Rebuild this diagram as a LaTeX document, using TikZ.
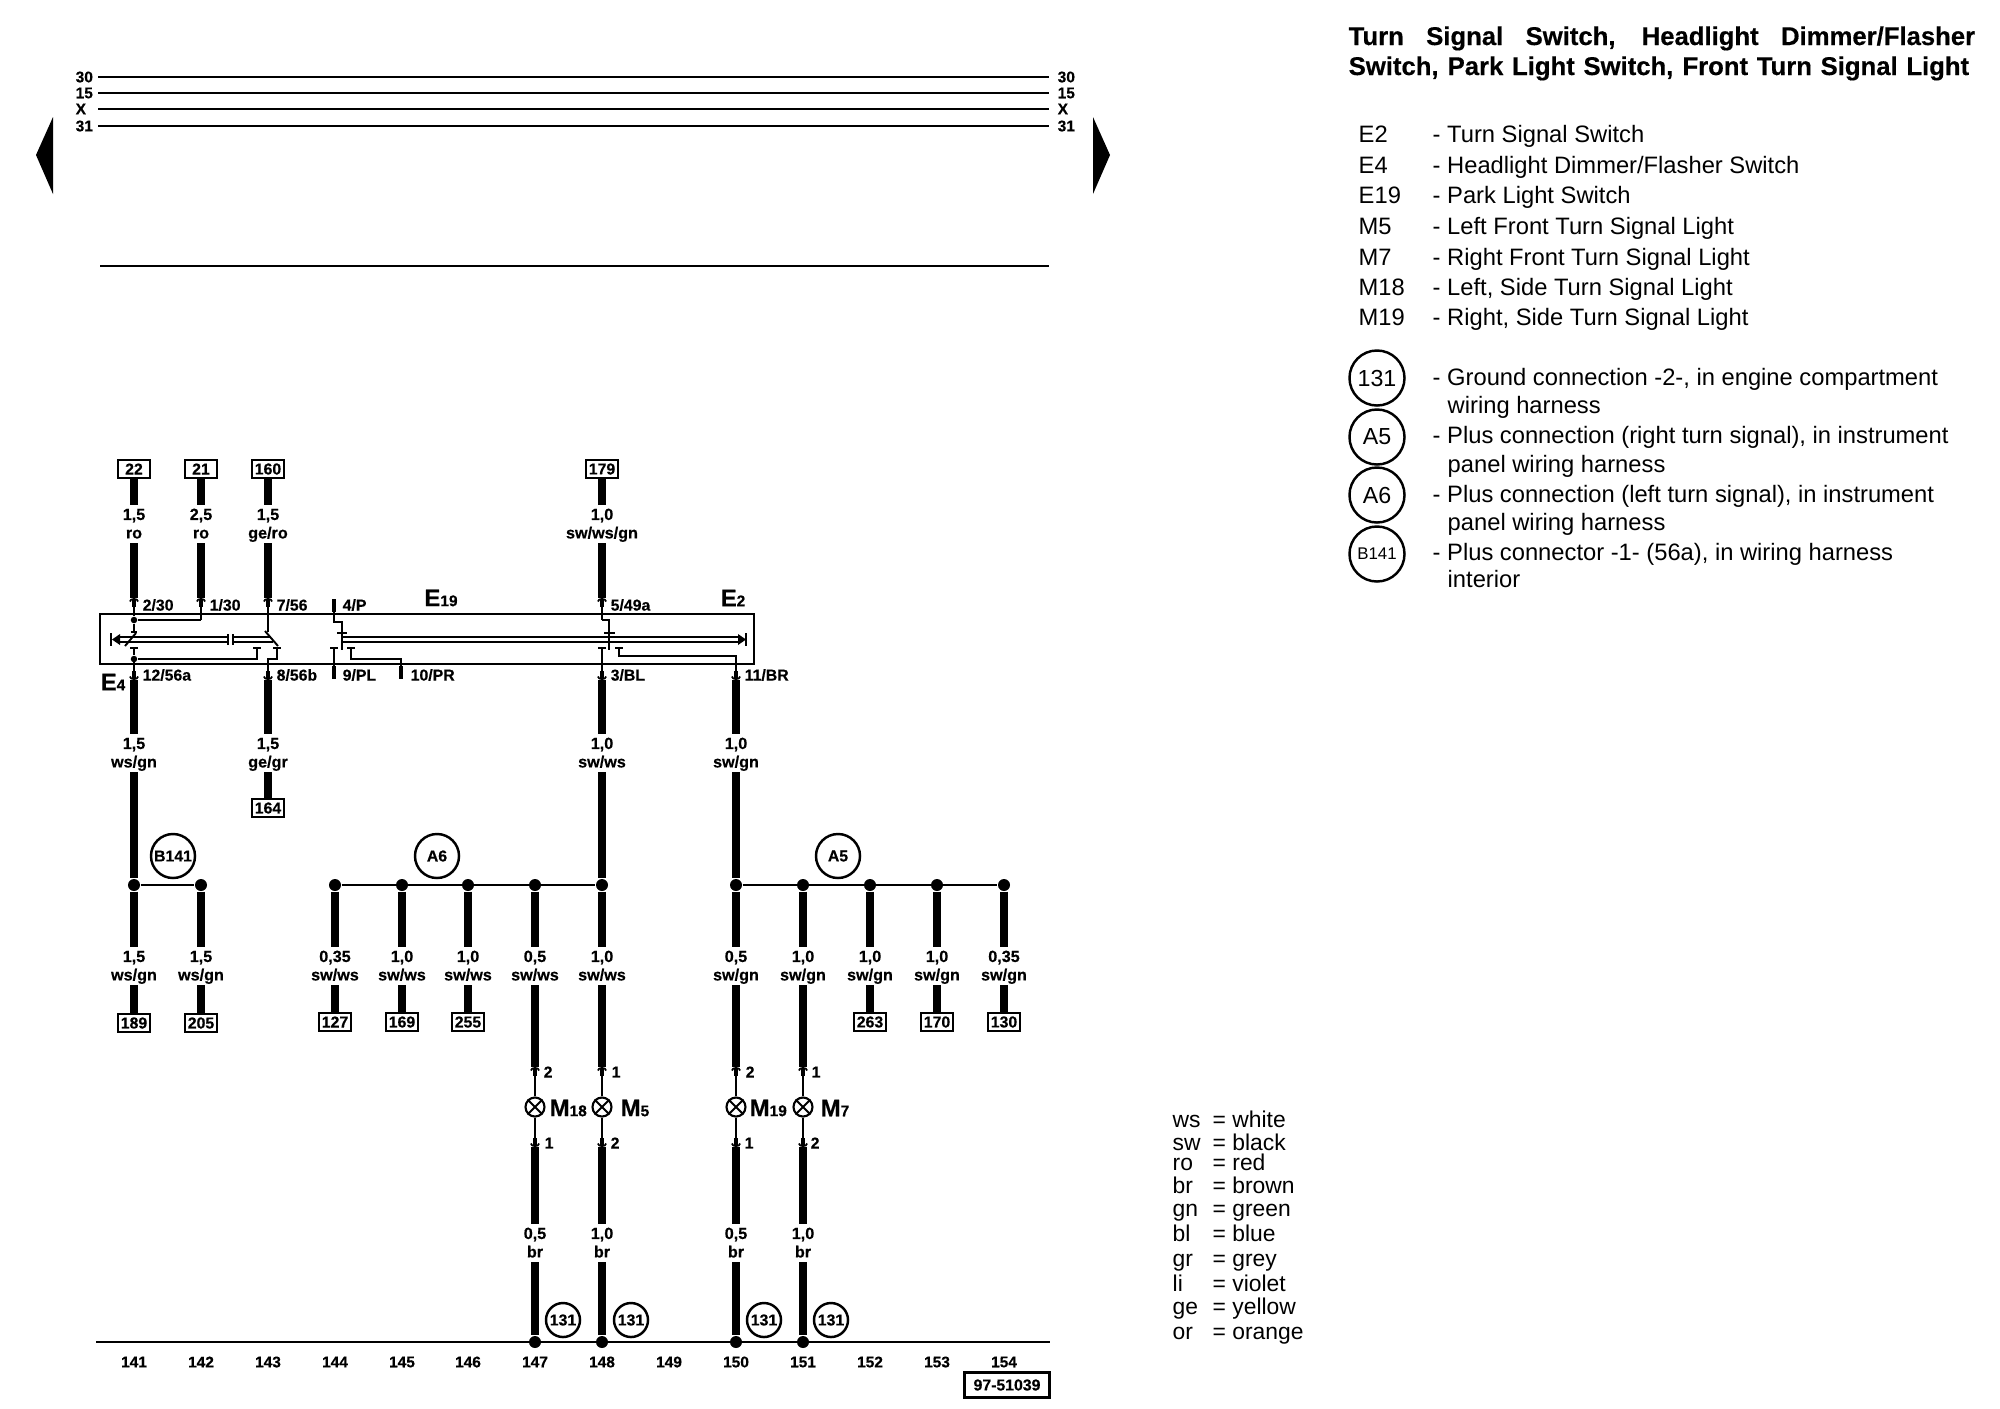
\documentclass[tikz,border=0pt]{standalone}
\usepackage{fontspec}
\setmainfont{Liberation Sans}[BoldFeatures={FakeBold=0.4}]
\usetikzlibrary{arrows.meta}
\newcommand{\compname}[2]{{\fontsize{6.8}{7}\selectfont #1}{\fontsize{4.4}{5}\selectfont #2}}
\tikzset{
  wire/.style={line width=2.4pt},
  thin wire/.style={line width=0.55pt},
  bus/.style={line width=0.5pt},
  pinup/.style={line width=0.5pt,-{Rectangle[length=2pt,width=1.1pt,sep=-0.5pt]Arc Barb[width=2.8pt,length=1pt,line width=.5pt]}},
  stub/.style={line width=1.1pt},
  link/.style={line width=0.5pt},
  termbox/.style={draw,line width=0.7pt,fill=white,font=\bfseries\fontsize{4.5}{5}\selectfont,minimum width=.32cm,minimum height=.18cm,inner sep=0pt},
  gauge/.style={font=\bfseries\fontsize{4.6}{5.25}\selectfont,align=center,text height=9pt,text depth=0.8pt,minimum height=.37cm,inner sep=0pt},
  pintext/.style={font=\bfseries\fontsize{4.5}{5}\selectfont,anchor=west,inner sep=0pt},
  coltext/.style={font=\bfseries\fontsize{4.4}{5}\selectfont,inner sep=0pt},
  dot/.style={circle,fill=black,minimum size=.12cm,inner sep=0pt},
  smalldot/.style={circle,fill=black,minimum size=.065cm,inner sep=0pt},
  plusring/.style={circle,draw,line width=0.7pt,minimum size=.44cm,inner sep=0pt,font=\bfseries\fontsize{4.5}{5}\selectfont},
  groundring/.style={circle,draw,line width=0.7pt,minimum size=.34cm,inner sep=0pt,font=\bfseries\fontsize{4.5}{5}\selectfont},
  lamp/.style={circle,draw,line width=0.6pt,minimum size=.19cm,inner sep=0pt},
  legend/.style={font=\fontsize{6.75}{7}\selectfont,anchor=base west,inner sep=0pt},
  keytext/.style={font=\fontsize{6.5}{7}\selectfont,anchor=base west,inner sep=0pt},
  legendring/.style={circle,draw,line width=0.7pt,minimum size=.55cm,inner sep=0pt,font=\fontsize{6.6}{7}\selectfont},
  titletext/.style={font=\bfseries\fontsize{7.3}{8}\selectfont,anchor=base west,inner sep=0pt},
}
\begin{document}
\begin{tikzpicture}[x=0.01cm,y=-0.01cm]
    \useasboundingbox (0,0) rectangle (2000,1408);
    % supply lines
    \node[coltext,anchor=west] (l30) at (75,77) {30};
    \node[coltext,anchor=west] (l15) at (75,93) {15};
    \node[coltext,anchor=west] (lX) at (75,109) {X};
    \node[coltext,anchor=west] (l31) at (75,126) {31};
    \node[coltext,anchor=west] (r30) at (1057,77) {30};
    \node[coltext,anchor=west] (r15) at (1057,93) {15};
    \node[coltext,anchor=west] (rX) at (1057,109) {X};
    \node[coltext,anchor=west] (r31) at (1057,126) {31};
    \draw[line width=0.5pt] (98,77) -- (1049,77);
    \draw[line width=0.5pt] (98,93) -- (1049,93);
    \draw[line width=0.8pt] (98,109) -- (1049,109);
    \draw[line width=0.8pt] (98,126) -- (1049,126);
    \draw[line width=0.5pt] (100,266) -- (1049,266);
    \fill (36,155) -- (53,117) -- (53,194) -- cycle;
    \fill (1110,155) -- (1093,117) -- (1093,194) -- cycle;

    % switch housing
    \draw[line width=0.7pt] (100,614) rectangle (754,664);
    \node (E19) at (441,598) {\bfseries\compname{E}{19}};
    \node (E2) at (733,598) {\bfseries\compname{E}{2}};
    \node (E4) at (113,682) {\bfseries\compname{E}{4}};

    % upper terminals
    \node[termbox] (t22) at (134,469) {22};
    \node[termbox] (t21) at (201,469) {21};
    \node[termbox] (t160) at (268,469) {160};
    \node[termbox] (t179) at (602,469) {179};
    \node[gauge] (g22) at (134,524) {1,5\\ro};
    \node[gauge] (g21) at (201,524) {2,5\\ro};
    \node[gauge] (g160) at (268,524) {1,5\\ge/ro};
    \node[gauge] (g179) at (602,524) {1,0\\sw/ws/gn};
    \coordinate (p22) at (134,598);
    \coordinate (p21) at (201,598);
    \coordinate (p160) at (268,598);
    \coordinate (p179) at (602,598);
    \draw[wire] (t22) -- (g22);
    \draw[wire] (g22) -- (p22);
    \draw[wire] (t21) -- (g21);
    \draw[wire] (g21) -- (p21);
    \draw[wire] (t160) -- (g160);
    \draw[wire] (g160) -- (p160);
    \draw[wire] (t179) -- (g179);
    \draw[wire] (g179) -- (p179);
    \node[pintext] (n230) at (142,605) {2/30};
    \node[pintext] (n130) at (209,605) {1/30};
    \node[pintext] (n756) at (276,605) {7/56};
    \node[pintext] (n4P) at (342,605) {4/P};
    \node[pintext] (n549) at (610,605) {5/49a};
    \node[pintext] (n1256) at (142,675) {12/56a};
    \node[pintext] (n856) at (276,675) {8/56b};
    \node[pintext] (n9PL) at (342,675) {9/PL};
    \node[pintext] (n10PR) at (410,675) {10/PR};
    \node[pintext] (n3BL) at (610,675) {3/BL};
    \node[pintext] (n11BR) at (744,675) {11/BR};

    % headlight dimmer/flasher contacts
    \node[smalldot] (s1) at (134,620) {};
    \node[smalldot] (s2) at (134,659) {};
    \draw[pinup] (s1) -- (p22);
    \draw[pinup] (201,620) -- (p21);
    \draw[thin wire] (s1) -- (201,620);
    \draw[thin wire] (s1) -- (134,632);
    \draw[thin wire] (131,632) -- (137,632);
    \draw[thin wire] (125,646) -- (136,633);
    \draw[thin wire] (130,648) -- (138,648) (134,648) -- (s2);
    \draw[thin wire] (s2) -- (257,659) -- (257,648);
    \draw[thin wire] (253,648) -- (261,648);
    \draw[link] (118,637) -- (228,637) (118,642) -- (228,642);
    \draw[thin wire] (228,634) -- (228,645) (233,634) -- (233,645);
    \draw[link] (233,637) -- (270,637) (233,642) -- (273,642);
    \fill (112,639.5) -- (120,634) -- (120,645) -- cycle;
    \draw[thin wire] (111,633) -- (111,646);
    \draw[pinup] (268,632) -- (p160);
    \draw[thin wire] (265,631) -- (278,646);
    \draw[thin wire] (273,648) -- (281,648) (277,648) -- (277,659) -- (268,659) -- (268,672);
    \draw[thin wire] (134,659) -- (134,672);

    % park light contacts
    \draw[thin wire] (334,612) -- (334,622) -- (342,622) -- (342,650);
    \draw[stub] (334,599) -- (334,612);
    \draw[thin wire] (337,633) -- (347,633);
    \draw[link] (342,637) -- (738,637) (342,642) -- (738,642);
    \fill (746,639.5) -- (738,634) -- (738,645) -- cycle;
    \draw[thin wire] (746,633) -- (746,646);
    \draw[thin wire] (330,648) -- (338,648) (334,648) -- (334,666);
    \draw[stub] (334,666) -- (334,679);
    \draw[thin wire] (347,648) -- (355,648) (351,648) -- (351,659) -- (401,659) -- (401,666);
    \draw[stub] (401,666) -- (401,679);

    % turn signal contacts
    \draw[pinup] (602,620) -- (p179);
    \draw[thin wire] (602,620) -- (609,620) -- (609,650);
    \draw[thin wire] (604,633) -- (615,633);
    \draw[thin wire] (598,648) -- (606,648) (602,648) -- (602,672);
    \draw[thin wire] (615,648) -- (623,648) (619,648) -- (619,656) -- (736,656) -- (736,672);

    % lower terminals
    \coordinate (q141) at (134,680);
    \coordinate (q143) at (268,680);
    \coordinate (q148) at (602,680);
    \coordinate (q150) at (736,680);
    \draw[pinup] (134,672) -- (q141);
    \draw[pinup] (268,672) -- (q143);
    \draw[pinup] (602,672) -- (q148);
    \draw[pinup] (736,672) -- (q150);
    \node[gauge] (g141) at (134,753) {1,5\\ws/gn};
    \node[gauge] (g143) at (268,753) {1,5\\ge/gr};
    \node[gauge] (g148) at (602,753) {1,0\\sw/ws};
    \node[gauge] (g150) at (736,753) {1,0\\sw/gn};
    \draw[wire] (q141) -- (g141);
    \draw[wire] (q143) -- (g143);
    \draw[wire] (q148) -- (g148);
    \draw[wire] (q150) -- (g150);
    \node[termbox] (t164) at (268,808) {164};
    \draw[wire] (g143) -- (t164);

    % splice rows
    \node[dot] (j141) at (134,885) {};
    \node[dot] (j142) at (201,885) {};
    \node[dot] (j144) at (335,885) {};
    \node[dot] (j145) at (402,885) {};
    \node[dot] (j146) at (468,885) {};
    \node[dot] (j147) at (535,885) {};
    \node[dot] (j148) at (602,885) {};
    \node[dot] (j150) at (736,885) {};
    \node[dot] (j151) at (803,885) {};
    \node[dot] (j152) at (870,885) {};
    \node[dot] (j153) at (937,885) {};
    \node[dot] (j154) at (1004,885) {};
    \draw[bus] (j141) -- (j142);
    \draw[bus] (j144) -- (j148);
    \draw[bus] (j150) -- (j154);
    \node[plusring] (B141) at (173,856) {B141};
    \node[plusring] (A6) at (437,856) {A6};
    \node[plusring] (A5) at (838,856) {A5};
    \draw[wire] (g141) -- (j141);
    \draw[wire] (g148) -- (j148);
    \draw[wire] (g150) -- (j150);

    % gauges under the splices
    \node[gauge] (g189) at (134,966) {1,5\\ws/gn};
    \node[gauge] (g205) at (201,966) {1,5\\ws/gn};
    \node[gauge] (g127) at (335,966) {0,35\\sw/ws};
    \node[gauge] (g169) at (402,966) {1,0\\sw/ws};
    \node[gauge] (g255) at (468,966) {1,0\\sw/ws};
    \node[gauge] (g18) at (535,966) {0,5\\sw/ws};
    \node[gauge] (g5) at (602,966) {1,0\\sw/ws};
    \node[gauge] (g19) at (736,966) {0,5\\sw/gn};
    \node[gauge] (g7) at (803,966) {1,0\\sw/gn};
    \node[gauge] (g263) at (870,966) {1,0\\sw/gn};
    \node[gauge] (g170) at (937,966) {1,0\\sw/gn};
    \node[gauge] (g130) at (1004,966) {0,35\\sw/gn};
    \draw[wire] (j141) -- (g189);
    \draw[wire] (j142) -- (g205);
    \draw[wire] (j144) -- (g127);
    \draw[wire] (j145) -- (g169);
    \draw[wire] (j146) -- (g255);
    \draw[wire] (j147) -- (g18);
    \draw[wire] (j148) -- (g5);
    \draw[wire] (j150) -- (g19);
    \draw[wire] (j151) -- (g7);
    \draw[wire] (j152) -- (g263);
    \draw[wire] (j153) -- (g170);
    \draw[wire] (j154) -- (g130);

    % terminals of the lower row
    \node[termbox] (t189) at (134,1023) {189};
    \node[termbox] (t205) at (201,1023) {205};
    \node[termbox] (t127) at (335,1022) {127};
    \node[termbox] (t169) at (402,1022) {169};
    \node[termbox] (t255) at (468,1022) {255};
    \node[termbox] (t263) at (870,1022) {263};
    \node[termbox] (t170) at (937,1022) {170};
    \node[termbox] (t130) at (1004,1022) {130};
    \draw[wire] (g189) -- (t189);
    \draw[wire] (g205) -- (t205);
    \draw[wire] (g127) -- (t127);
    \draw[wire] (g169) -- (t169);
    \draw[wire] (g255) -- (t255);
    \draw[wire] (g263) -- (t263);
    \draw[wire] (g170) -- (t170);
    \draw[wire] (g130) -- (t130);

    % lamps
    \node[lamp] (M18) at (535,1107) {};
    \node[lamp] (M5) at (602,1107) {};
    \node[lamp] (M19) at (736,1107) {};
    \node[lamp] (M7) at (803,1107) {};
    \draw[thin wire] (M18.45) -- (M18.225) (M18.135) -- (M18.315);
    \draw[thin wire] (M5.45) -- (M5.225) (M5.135) -- (M5.315);
    \draw[thin wire] (M19.45) -- (M19.225) (M19.135) -- (M19.315);
    \draw[thin wire] (M7.45) -- (M7.225) (M7.135) -- (M7.315);
    \node[anchor=west,inner sep=0pt] (M18t) at (549,1108) {\bfseries\compname{M}{18}};
    \node[anchor=west,inner sep=0pt] (M5t) at (620,1108) {\bfseries\compname{M}{5}};
    \node[anchor=west,inner sep=0pt] (M19t) at (749,1108) {\bfseries\compname{M}{19}};
    \node[anchor=west,inner sep=0pt] (M7t) at (820,1108) {\bfseries\compname{M}{7}};
    \coordinate (u18) at (535,1067);
    \coordinate (u5) at (602,1067);
    \coordinate (u19) at (736,1067);
    \coordinate (u7) at (803,1067);
    \coordinate (v18) at (535,1147);
    \coordinate (v5) at (602,1147);
    \coordinate (v19) at (736,1147);
    \coordinate (v7) at (803,1147);
    \draw[wire] (g18) -- (u18);
    \draw[wire] (g5) -- (u5);
    \draw[wire] (g19) -- (u19);
    \draw[wire] (g7) -- (u7);
    \draw[pinup] (M18) -- (u18);
    \draw[pinup] (M5) -- (u5);
    \draw[pinup] (M19) -- (u19);
    \draw[pinup] (M7) -- (u7);
    \draw[pinup] (M18) -- (v18);
    \draw[pinup] (M5) -- (v5);
    \draw[pinup] (M19) -- (v19);
    \draw[pinup] (M7) -- (v7);
    \node[pintext] at (543,1072) {2};
    \node[pintext] at (611,1072) {1};
    \node[pintext] at (745,1072) {2};
    \node[pintext] at (811,1072) {1};
    \node[pintext] at (544,1143) {1};
    \node[pintext] at (610,1143) {2};
    \node[pintext] at (744,1143) {1};
    \node[pintext] at (810,1143) {2};

    % earth side
    \node[gauge] (b18) at (535,1243) {0,5\\br};
    \node[gauge] (b5) at (602,1243) {1,0\\br};
    \node[gauge] (b19) at (736,1243) {0,5\\br};
    \node[gauge] (b7) at (803,1243) {1,0\\br};
    \node[dot] (e18) at (535,1342) {};
    \node[dot] (e5) at (602,1342) {};
    \node[dot] (e19) at (736,1342) {};
    \node[dot] (e7) at (803,1342) {};
    \draw[wire] (v18) -- (b18);
    \draw[wire] (v5) -- (b5);
    \draw[wire] (v19) -- (b19);
    \draw[wire] (v7) -- (b7);
    \draw[wire] (b18) -- (e18);
    \draw[wire] (b5) -- (e5);
    \draw[wire] (b19) -- (e19);
    \draw[wire] (b7) -- (e7);
    \draw[bus] (96,1342) -- (1050,1342);
    \node[groundring] (g131a) at (563,1320) {131};
    \node[groundring] (g131b) at (631,1320) {131};
    \node[groundring] (g131c) at (764,1320) {131};
    \node[groundring] (g131d) at (831,1320) {131};

    % column numbers
    \node[coltext] at (134,1362) {141};
    \node[coltext] at (201,1362) {142};
    \node[coltext] at (268,1362) {143};
    \node[coltext] at (335,1362) {144};
    \node[coltext] at (402,1362) {145};
    \node[coltext] at (468,1362) {146};
    \node[coltext] at (535,1362) {147};
    \node[coltext] at (602,1362) {148};
    \node[coltext] at (669,1362) {149};
    \node[coltext] at (736,1362) {150};
    \node[coltext] at (803,1362) {151};
    \node[coltext] at (870,1362) {152};
    \node[coltext] at (937,1362) {153};
    \node[coltext] at (1004,1362) {154};
    \node[termbox,minimum width=.85cm,minimum height=.25cm] (code) at (1007,1385) {97-51039};

    % colour key
    \node[keytext] at (1172,1127) {ws};
    \node[keytext] at (1172,1150) {sw};
    \node[keytext] at (1172,1170) {ro};
    \node[keytext] at (1172,1193) {br};
    \node[keytext] at (1172,1216) {gn};
    \node[keytext] at (1172,1241) {bl};
    \node[keytext] at (1172,1266) {gr};
    \node[keytext] at (1172,1291) {li};
    \node[keytext] at (1172,1314) {ge};
    \node[keytext] at (1172,1339) {or};
    \node[keytext] at (1212,1127) {= white};
    \node[keytext] at (1212,1150) {= black};
    \node[keytext] at (1212,1170) {= red};
    \node[keytext] at (1212,1193) {= brown};
    \node[keytext] at (1212,1216) {= green};
    \node[keytext] at (1212,1241) {= blue};
    \node[keytext] at (1212,1266) {= grey};
    \node[keytext] at (1212,1291) {= violet};
    \node[keytext] at (1212,1314) {= yellow};
    \node[keytext] at (1212,1339) {= orange};

    % title and part list
    \node[titletext] (title1) at (1348,45) {\makebox[6.26cm][s]{Turn Signal Switch, Headlight Dimmer/Flasher}};
    \node[titletext] (title2) at (1348,75) {\makebox[6.2cm][s]{Switch, Park Light Switch, Front Turn Signal Light}};
    \node[legend] at (1358,142) {E2};
    \node[legend] at (1358,173) {E4};
    \node[legend] at (1358,203) {E19};
    \node[legend] at (1358,234) {M5};
    \node[legend] at (1358,265) {M7};
    \node[legend] at (1358,295) {M18};
    \node[legend] at (1358,325) {M19};
    \node[legend] at (1432,142) {- Turn Signal Switch};
    \node[legend] at (1432,173) {- Headlight Dimmer/Flasher Switch};
    \node[legend] at (1432,203) {- Park Light Switch};
    \node[legend] at (1432,234) {- Left Front Turn Signal Light};
    \node[legend] at (1432,265) {- Right Front Turn Signal Light};
    \node[legend] at (1432,295) {- Left, Side Turn Signal Light};
    \node[legend] at (1432,325) {- Right, Side Turn Signal Light};
    \node[legendring] (r131) at (1377,378) {131};
    \node[legendring] (rA5) at (1377,437) {A5};
    \node[legendring] (rA6) at (1377,495) {A6};
    \node[legendring,font=\fontsize{4.8}{5}\selectfont] (rB141) at (1377,554) {B141};
    \node[legend] at (1432,385) {- Ground connection -2-, in engine compartment};
    \node[legend] at (1447,413) {wiring harness};
    \node[legend] at (1432,443) {- Plus connection (right turn signal), in instrument};
    \node[legend] at (1447,472) {panel wiring harness};
    \node[legend] at (1432,502) {- Plus connection (left turn signal), in instrument};
    \node[legend] at (1447,530) {panel wiring harness};
    \node[legend] at (1432,560) {- Plus connector -1- (56a), in wiring harness};
    \node[legend] at (1447,587) {interior};
\end{tikzpicture}
\end{document}
